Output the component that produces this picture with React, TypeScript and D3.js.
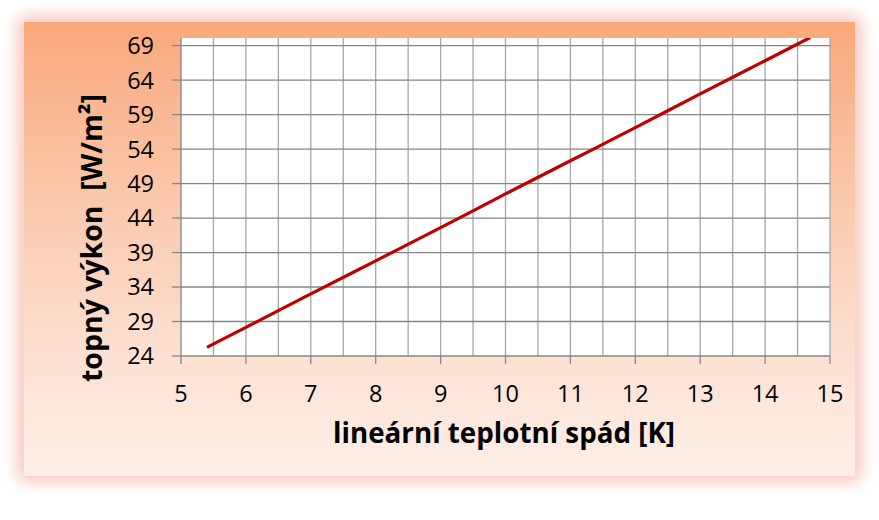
import React from "react";
import * as d3 from "d3";

const spad: number[] = [5.42, 6, 7, 8, 9, 10, 11, 12, 13, 14, 14.68];
const vykon: number[] = [25.35, 28.15, 33.0, 37.8, 42.6, 47.5, 52.3, 57.1, 62.0, 66.8, 70.1];
const xTicks: number[] = [5, 6, 7, 8, 9, 10, 11, 12, 13, 14, 15];
const xGrid: number[] = [5.5, 6, 6.5, 7, 7.5, 8, 8.5, 9, 9.5, 10, 10.5, 11, 11.5, 12, 12.5, 13, 13.5, 14, 14.5, 15];
const yTicks: number[] = [24, 29, 34, 39, 44, 49, 54, 59, 64, 69];
const xTitle = "lineární teplotní spád [K]";
const yTitle = "topný výkon  [W/m²]";

export default function App() {
  const W = 879, H = 520;
  const L = 181, R = 830, T = 38, B = 356;
  const x = d3.scaleLinear().domain([5, 15]).range([L, R]);
  const y = d3.scaleLinear().domain([24, 70.1]).range([B, T]);
  const pts: [number, number][] = spad.map((s, i) => [s, vykon[i]]);
  const line = d3.line<[number, number]>().x(d => x(d[0])).y(d => y(d[1])).curve(d3.curveMonotoneX);
  const font = "'Open Sans', 'DejaVu Sans', sans-serif";
  return (
    <svg width={W} height={H} style={{ position: "absolute", left: 0, top: 0, background: "#fff" }}>
      <defs>
        <linearGradient id="bg" x1="0" y1="0" x2="0" y2="1">
          <stop offset="0" stopColor="#f9a87b" />
          <stop offset="0.4" stopColor="#fbc9ad" />
          <stop offset="0.72" stopColor="#fde0d1" />
          <stop offset="1" stopColor="#fdefe8" />
        </linearGradient>
        <filter id="glow" x="-10%" y="-10%" width="120%" height="120%">
          <feGaussianBlur stdDeviation="7" />
        </filter>
        <clipPath id="plotclip">
          <rect x={L} y={T} width={R - L} height={B - T} />
        </clipPath>
      </defs>
      <rect x={16} y={14} width={847} height={470} rx={14} fill="#f9bdb4" opacity={0.75} filter="url(#glow)" />
      <rect x={24} y={22} width={831} height={454} fill="url(#bg)" />
      <rect x={L} y={T} width={R - L} height={B - T} fill="#ffffff" />
      {xGrid.map(v => (
        <line key={"vx" + v} x1={x(v)} x2={x(v)} y1={T} y2={B} stroke="#a6a6a6" strokeWidth={1.3} />
      ))}
      {yTicks.slice(1).map(v => (
        <line key={"hy" + v} x1={L} x2={R} y1={y(v)} y2={y(v)} stroke="#868686" strokeWidth={1.3} />
      ))}
      <line x1={L} x2={L} y1={T} y2={B} stroke="#868686" strokeWidth={1.3} />
      <line x1={L} x2={R} y1={B} y2={B} stroke="#868686" strokeWidth={1.3} />
      {yTicks.map(v => (
        <line key={"ty" + v} x1={L - 9} x2={L} y1={y(v)} y2={y(v)} stroke="#868686" strokeWidth={1.3} />
      ))}
      {xTicks.map(v => (
        <line key={"tx" + v} x1={x(v)} x2={x(v)} y1={B} y2={B + 8} stroke="#868686" strokeWidth={1.3} />
      ))}
      <path d={line(pts) || ""} fill="none" stroke="#c00000" strokeWidth={3.2} strokeLinecap="round" clipPath="url(#plotclip)" />
      {yTicks.map(v => (
        <text key={"ly" + v} x={154} y={y(v)} dy="0.36em" textAnchor="end" fontFamily={font} fontSize={23.5} fill="#000">{v}</text>
      ))}
      {xTicks.map(v => (
        <text key={"lx" + v} x={x(v)} y={402} textAnchor="middle" fontFamily={font} fontSize={23.5} fill="#000">{v}</text>
      ))}
      <text x={504} y={443} textAnchor="middle" fontFamily={font} fontWeight="bold" fontSize={28} fill="#000"
        textLength={342} lengthAdjust="spacingAndGlyphs">{xTitle}</text>
      <text transform="translate(102,238) rotate(-90)" x={0} y={0} textAnchor="middle" fontFamily={font} fontWeight="bold" fontSize={28} fill="#000"
        textLength={288} lengthAdjust="spacingAndGlyphs" style={{ whiteSpace: "pre" }}>{yTitle}</text>
    </svg>
  );
}
